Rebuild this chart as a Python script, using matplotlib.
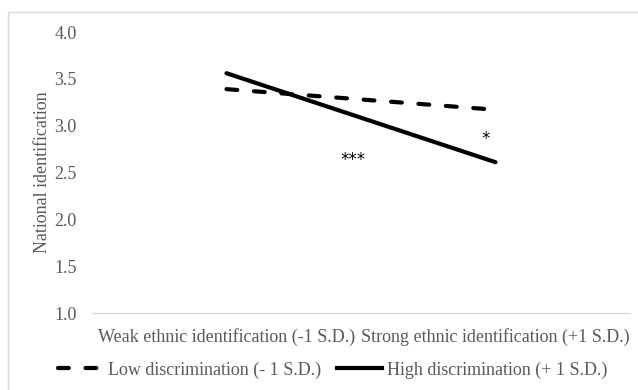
import matplotlib
matplotlib.use("Agg")
import matplotlib.pyplot as plt
from matplotlib.lines import Line2D
from matplotlib.patches import Rectangle

categories = ["Weak ethnic identification (-1 S.D.)", "Strong ethnic identification (+1 S.D.)"]
low_disc = [3.39, 3.17]
high_disc = [3.56, 2.61]
series_names = ["Low discrimination (- 1 S.D.)", "High discrimination (+ 1 S.D.)"]
yticks = [1.0, 1.5, 2.0, 2.5, 3.0, 3.5, 4.0]
annotations = [(0.47, 2.63, "***"), (0.963, 2.86, "*")]

plt.rcParams['font.family'] = ['Liberation Serif', 'DejaVu Serif']
grey = "#595959"
fs = 13

W, H = 638, 390
fig = plt.figure(figsize=(W / 100, H / 100), dpi=100)
fig.patches.append(Rectangle((8 / W, -0.1), 1.2, 1 - 12 / H + 0.1, transform=fig.transFigure,
                             fill=False, edgecolor="#d9d9d9", linewidth=1.0))

dash = (0, (2.6, 4.0))
ax = fig.add_axes([92 / W, 1 - 313 / H, (630 - 92) / W, (313 - 32) / H])
x = list(range(len(categories)))
ax.plot(x, low_disc, color="black", linewidth=3.0, linestyle=dash, dash_capstyle="round",
        label=series_names[0])
ax.plot(x, high_disc, color="black", linewidth=3.0, solid_capstyle="round", label=series_names[1])

ax.set_xlim(-0.5, len(categories) - 0.5)
ax.set_ylim(1.0, 4.0)
ax.set_yticks(yticks)
ax.set_yticklabels([f"{v:.1f}" for v in yticks], color=grey, fontsize=fs)
ax.set_xticks(x)
ax.set_xticklabels(categories, color=grey, fontsize=fs)
ax.tick_params(axis="y", length=0, pad=11)
ax.tick_params(axis="x", length=0, pad=11)
for s in ["top", "right", "left"]:
    ax.spines[s].set_visible(False)
ax.spines["bottom"].set_color("#d9d9d9")
ax.spines["bottom"].set_linewidth(1.0)

ax.set_ylabel("National identification", color=grey, fontsize=fs)
ax.yaxis.set_label_coords((51 - 92) / (630 - 92), 0.5)

for xa, ya, t in annotations:
    ax.text(xa, ya, t, ha="center", va="center", fontsize=12, color="black",
            family=['DejaVu Sans'])

handles = [Line2D([0], [0], color="black", linewidth=3.0, linestyle=dash, dash_capstyle="round"),
           Line2D([0], [0], color="black", linewidth=3.0)]
leg = fig.legend(handles, series_names, loc="center left", bbox_to_anchor=(42 / W, 1 - 370 / H),
                 ncol=2, frameon=False, fontsize=fs, handlelength=2.5, handletextpad=0.25,
                 columnspacing=0.9, labelcolor=grey)

fig.savefig("out.png", dpi=100)
